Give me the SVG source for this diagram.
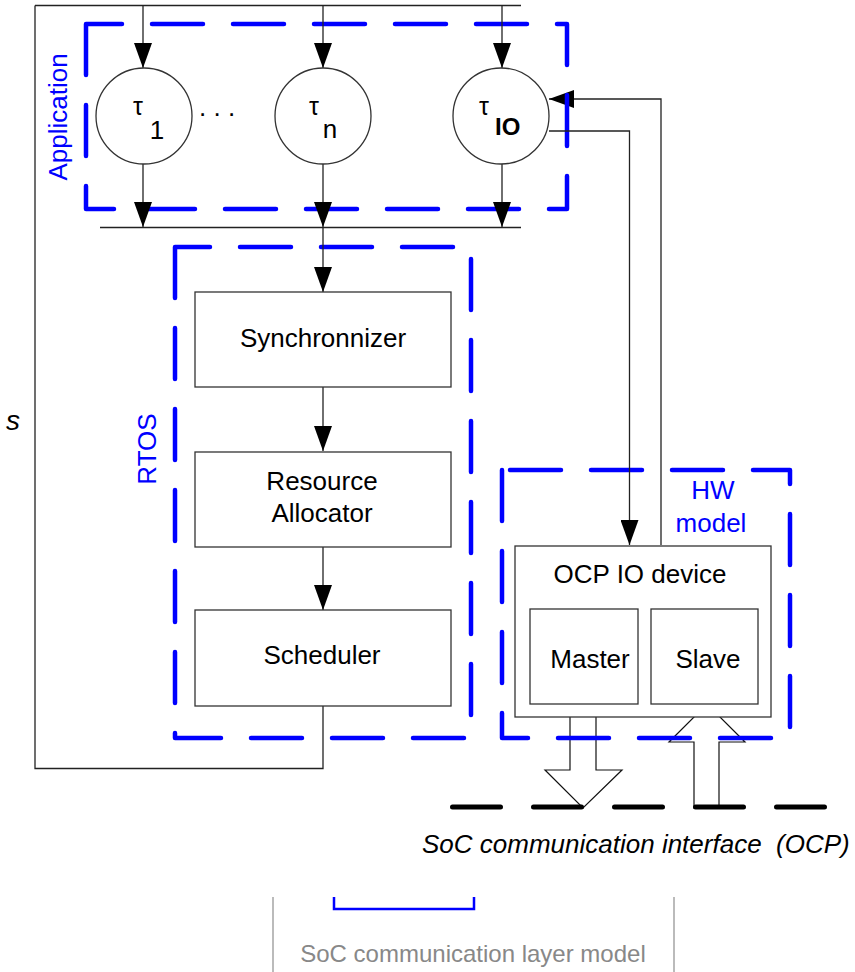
<svg xmlns="http://www.w3.org/2000/svg" width="855" height="972" viewBox="0 0 855 972">
<defs>
<marker id="ah" markerWidth="26" markerHeight="18" refX="25" refY="9" orient="auto" markerUnits="userSpaceOnUse"><path d="M0,0 L25,9 L0,18 Z" fill="#000"/></marker>
<style>
.ln{fill:none;stroke:#222;stroke-width:1.3}
.nd{fill:#fff;stroke:#333;stroke-width:1.3}
.bx{fill:none;stroke:#0000ff;stroke-width:4.5;stroke-dasharray:51 30;stroke-linecap:round;stroke-linejoin:round}
.ha{fill:#fff;stroke:#111;stroke-width:1.2}
.t{font-family:"Liberation Sans",Arial,sans-serif;font-size:26px;fill:#000}
.tau{font-family:"Liberation Sans",Arial,sans-serif;font-size:25px;fill:#000;text-anchor:middle}
.c{text-anchor:middle}
.b{fill:#0000ff}
</style>
</defs>
<rect width="855" height="972" fill="#fff"/>

<g id="io-arrows">
<polygon class="ha" points="570,704 596,704 596,770 622,770 583,808 545,770 570,770"/>
<polygon class="ha" points="694,808 719,808 719,742 745,742 707,704 669,742 694,742"/>
</g>

<g id="connector-io-in">
<path class="ln" d="M661,545 V99 H549" marker-end="url(#ah)"/>
</g>

<g id="boxes">
<path id="app-box" class="bx" d="M86,24 V209 H567 V24 Z"/>
<path id="rtos-box" class="bx" d="M175,247 V738 H471 V247 Z"/>
<path id="hw-box" class="bx" d="M502,470 V738 H790 V470 Z"/>
</g>

<g id="connectors">
<path class="ln" d="M35,5.5 H521"/>
<path class="ln" d="M35,5.5 V768.5 H323 V706"/>
<path class="ln" d="M143,5.5 V68" marker-end="url(#ah)"/>
<path class="ln" d="M323,5.5 V68" marker-end="url(#ah)"/>
<path class="ln" d="M502,5.5 V68" marker-end="url(#ah)"/>
<path class="ln" d="M143,164 V227" marker-end="url(#ah)"/>
<path class="ln" d="M323,164 V227" marker-end="url(#ah)"/>
<path class="ln" d="M502,164 V227" marker-end="url(#ah)"/>
<path class="ln" d="M100,227.5 H521"/>
<path class="ln" d="M323,227 V292" marker-end="url(#ah)"/>
<path class="ln" d="M323,387 V451" marker-end="url(#ah)"/>
<path class="ln" d="M323,547 V610" marker-end="url(#ah)"/>
<path class="ln" d="M549,131 H629.5 V545" marker-end="url(#ah)"/>
</g>

<g id="tau1">
<circle class="nd" cx="144" cy="116" r="48"/>
<text class="tau" x="138" y="115">τ</text>
<text class="t" x="157" y="139" text-anchor="middle">1</text>
</g>
<text class="t" x="199" y="116">. . .</text>
<g id="taun">
<circle class="nd" cx="323" cy="116" r="48"/>
<text class="tau" x="314" y="115">τ</text>
<text class="t" x="330" y="138" text-anchor="middle">n</text>
</g>
<g id="tauIO">
<circle class="nd" cx="501" cy="116" r="48"/>
<text class="tau" x="484" y="115">τ</text>
<text class="t" x="495" y="135" style="font-size:24px;font-weight:bold">IO</text>
</g>

<g id="synchronizer">
<rect class="nd" x="195" y="292" width="256" height="95"/>
<text class="t c" x="323" y="347">Synchronnizer</text>
</g>
<g id="resource-allocator">
<rect class="nd" x="195" y="452" width="256" height="95"/>
<text class="t c" x="322" y="490">Resource</text>
<text class="t c" x="322" y="522">Allocator</text>
</g>
<g id="scheduler">
<rect class="nd" x="195" y="610" width="256" height="96"/>
<text class="t c" x="322" y="664">Scheduler</text>
</g>

<g id="ocp-io-device">
<rect class="nd" x="515" y="546" width="256" height="171"/>
<text class="t c" x="640" y="583">OCP IO device</text>
</g>
<g id="master">
<rect class="nd" x="530" y="609" width="108" height="95"/>
<text class="t c" x="590" y="668">Master</text>
</g>
<g id="slave">
<rect class="nd" x="651" y="609" width="107" height="95"/>
<text class="t c" x="708" y="668">Slave</text>
</g>

<g id="labels">
<text class="t c b" transform="translate(67,117) rotate(-90)">Application</text>
<text class="t c b" transform="translate(156,449) rotate(-90)">RTOS</text>
<text class="t c b" x="713" y="499">HW</text>
<text class="t c b" x="711" y="532">model</text>
<text class="t" x="6" y="430" style="font-size:28px;font-style:italic">s</text>
</g>

<g id="soc-interface">
<line x1="452.5" y1="807" x2="825" y2="807" stroke="#000" stroke-width="5" stroke-dasharray="48 33" stroke-linecap="round"/>
<text class="t" x="422" y="853" style="font-style:italic" xml:space="preserve">SoC communication interface  (OCP)</text>
</g>

<g id="legend">
<line x1="273" y1="897" x2="273" y2="972" stroke="#bbb" stroke-width="2"/>
<line x1="674" y1="897" x2="674" y2="972" stroke="#bbb" stroke-width="2"/>
<path d="M334,897 V909 H474 V897" fill="none" stroke="#0000ff" stroke-width="2.5"/>
<text class="t c" x="473" y="962" style="font-size:24px;fill:#888">SoC communication layer model</text>
</g>
</svg>
